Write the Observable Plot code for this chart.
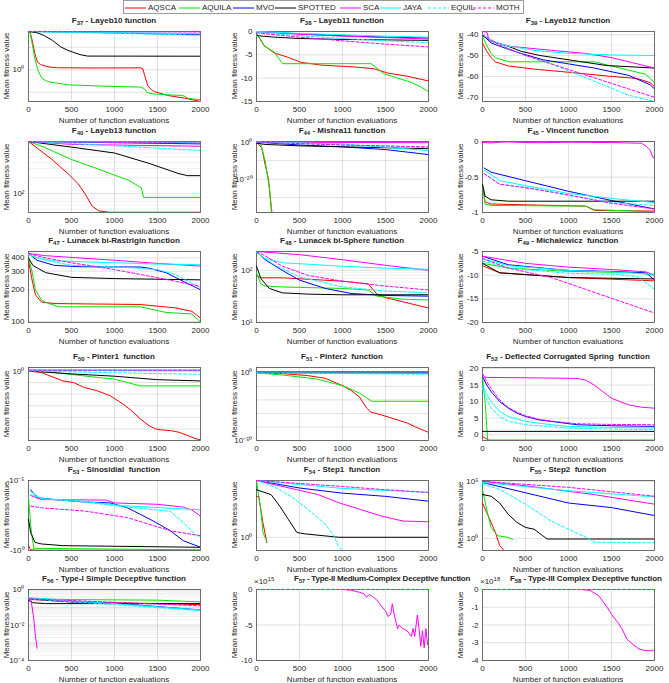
<!DOCTYPE html>
<html>
<head>
<meta charset="utf-8">
<script src="https://cdn.jsdelivr.net/npm/d3@7"></script>
<script src="https://cdn.jsdelivr.net/npm/@observablehq/plot@0.6"></script>
<style>
  body { margin: 0; background: #fff; }
  #fig { position: relative; width: 669px; height: 683px; overflow: hidden; background: #fff;
         font-family: "Liberation Sans", Arial, sans-serif; color: #262626; }
  .title { position: absolute; font-weight: bold; font-size: 8px; line-height: 10px; white-space: pre; }
  .title sub { font-size: 6px; vertical-align: -2px; line-height: 0; }
  .lab { position: absolute; font-size: 8px; line-height: 10px; white-space: nowrap; }
  .expo { position: absolute; font-size: 8px; line-height: 10px; white-space: nowrap; }
  .expo sup { font-size: 6px; vertical-align: 3px; line-height: 0; }
  #legend { position: absolute; left: 123px; top: 0; width: 401px; height: 14px; box-sizing: border-box;
            border: 1px solid #9a9a9a; background: #fff; font-size: 8px; }
  #legend .item { position: absolute; top: 1px; height: 11px; display: flex; align-items: center; white-space: nowrap; }
  #legend svg { margin-right: 2px; }
</style>
</head>
<body>
<div id="fig"><div id="legend"></div></div>
<script>
// ---- series -------------------------------------------------------------
const SERIES = ["AQSCA", "AQUILA", "MVO", "SPOTTED", "SCA", "JAYA", "EQUIL", "MOTH"];
const X_TICKS = [0, 500, 1000, 1500, 2000];

// ---- convergence curves: [function evaluations, mean fitness] -----------
const F37 = {
  AQSCA: [[0,50],[20,46],[47,17],[75,5],[105,2.2],[140,1.7],[183,1.5],[260,1.3],[338,1.23],[800,1.2],[1300,1.22],[1330,1.1],[1350,0.56],[1386,0.2],[1430,0.13],[1464,0.108],[1620,0.072],[1814,0.055],[2000,0.039]],
  AQUILA: [[0,50],[20,42],[47,12],[75,3],[105,1.1],[135,0.6],[163,0.4],[210,0.32],[260,0.28],[454,0.216],[843,0.188],[1309,0.17],[1350,0.14],[1386,0.095],[1450,0.085],[1620,0.077],[1794,0.072],[1852,0.055],[2000,0.046]],
  MVO: [[0,50],[500,47],[1000,43],[1500,39],[2000,36]],
  SPOTTED: [[0,50],[100,44],[183,33],[280,20],[377,10.2],[450,7.5],[513,6.1],[600,4.7],[687,4.05],[2000,4.0]],
  SCA: [[0,50],[2000,49]],
  JAYA: [[0,50],[1000,45],[2000,40]],
  EQUIL: [[0,50],[1000,42],[2000,34]],
  MOTH: [[0,50],[2000,48]]
};
const F38 = {
  AQSCA: [[12,-0.7],[89,-3.0],[206,-4.6],[361,-5.5],[517,-6.6],[750,-7.2],[1138,-7.6],[1371,-8.0],[1526,-8.9],[1759,-9.6],[2000,-10.6]],
  AQUILA: [[12,-0.7],[89,-3.1],[206,-4.4],[264,-5.9],[303,-6.9],[1332,-6.9],[1410,-8.0],[1488,-9.1],[1643,-10.0],[1798,-10.9],[1915,-11.9],[2000,-12.9]],
  MVO: [[0,0],[500,-0.5],[1000,-0.9],[1500,-1.2],[2000,-1.4]],
  SPOTTED: [[12,-0.9],[200,-1.2],[500,-1.5],[1000,-1.7],[1500,-1.8],[2000,-1.9]],
  SCA: [[0,0],[500,-0.6],[1000,-1.0],[1500,-1.3],[2000,-1.6]],
  JAYA: [[0,0],[500,-0.4],[1000,-0.7],[1500,-1.0],[2000,-1.2]],
  EQUIL: [[0,-0.2],[500,-0.9],[1000,-1.5],[1500,-2.0],[2000,-2.4]],
  MOTH: [[0,-0.3],[500,-1.2],[1000,-2.0],[1500,-2.7],[2000,-3.3]]
};
const F39 = {
  AQSCA: [[0,-44],[50,-48],[100,-51],[150,-53],[300,-55],[600,-56.5],[1000,-58],[1500,-60],[1800,-61],[1950,-63],[2000,-65]],
  AQUILA: [[0,-41],[60,-46],[100,-49],[150,-51],[300,-53],[1300,-53],[1500,-55],[1700,-57],[1900,-59],[2000,-63]],
  MVO: [[0,-40],[100,-44],[300,-47],[450,-49],[700,-52],[1000,-54],[1300,-56],[1700,-59.5],[1950,-64],[2000,-66]],
  SPOTTED: [[0,-40.5],[100,-43],[283,-45.3],[450,-48],[670,-50],[1058,-52.4],[1446,-54.8],[2000,-56]],
  SCA: [[0,-38.5],[50,-38.8],[80,-43],[300,-45.5],[800,-47.5],[1200,-49],[1500,-51],[1800,-54],[2000,-56]],
  JAYA: [[0,-40],[100,-43],[300,-45.5],[600,-47.5],[1000,-49],[1500,-49.7],[2000,-50]],
  EQUIL: [[0,-40],[200,-45],[500,-50],[800,-54],[1100,-59],[1400,-64],[1700,-69],[2000,-72]],
  MOTH: [[0,-40],[200,-45],[500,-50],[800,-54],[1100,-58],[1400,-62],[1700,-66],[2000,-70]]
};
const F40 = {
  AQSCA: [[0,1000],[260,470],[460,240],[580,152],[660,97],[740,57],[820,46],[940,43.5],[2000,43.5]],
  AQUILA: [[0,1000],[180,780],[500,450],[800,300],[1000,225],[1164,180],[1312,129],[1337,84],[2000,84]],
  MVO: [[0,1000],[2000,900]],
  SPOTTED: [[0,1000],[500,780],[1000,600],[1400,380],[1750,240],[1850,220],[2000,220]],
  SCA: [[0,1000],[500,880],[2000,810]],
  JAYA: [[0,1000],[2000,950]],
  EQUIL: [[0,1000],[1000,830],[2000,670]],
  MOTH: [[0,1000],[2000,930]]
};
const F44 = {
  AQSCA: [[0,1],[60,1e-3],[100,1e-12],[120,1e-16],[140,1e-20],[175,1e-38]],
  AQUILA: [[0,1],[50,1e-1],[100,1e-10],[150,1e-25],[180,1e-38]],
  MVO: [[0,1],[500,0.03],[1000,3e-3],[1500,1e-4],[2000,2e-7]],
  SPOTTED: [[0,0.3],[100,0.06],[500,1e-2],[1000,3e-3],[1500,1e-3],[2000,3e-4]],
  SCA: [[0,1],[2000,0.5]],
  JAYA: [[0,1],[1000,0.1],[2000,3e-5]],
  EQUIL: [[0,1],[1000,0.03],[2000,1e-3]],
  MOTH: [[0,1],[1000,0.03],[2000,3e-3]]
};
const F45 = {
  AQSCA: [[0,-0.62],[30,-0.85],[100,-0.88],[1200,-0.91],[1300,-0.97],[2000,-0.98]],
  AQUILA: [[0,-0.62],[30,-0.88],[100,-0.9],[1200,-0.91],[1300,-0.96],[2000,-0.99]],
  MVO: [[20,-0.37],[100,-0.43],[500,-0.55],[1000,-0.7],[1500,-0.83],[2000,-0.95]],
  SPOTTED: [[0,-0.6],[30,-0.77],[100,-0.82],[300,-0.84],[2000,-0.84]],
  SCA: [[0,-0.01],[100,-0.015],[200,-0.005],[300,0],[500,-0.01],[700,-0.012],[1000,-0.005],[1500,-0.01],[1850,-0.02],[1900,-0.06],[1950,-0.12],[1980,-0.22],[2000,-0.23]],
  JAYA: [[20,-0.4],[200,-0.55],[500,-0.62],[1000,-0.73],[1500,-0.8],[2000,-0.86]],
  EQUIL: [[20,-0.45],[200,-0.6],[600,-0.66],[1000,-0.76],[1500,-0.86],[2000,-0.9]],
  MOTH: [[20,-0.45],[200,-0.6],[500,-0.65],[1000,-0.75],[1500,-0.87],[2000,-0.95]]
};
const F47 = {
  AQSCA: [[0,380],[40,250],[80,180],[150,153],[300,148],[1300,145],[1700,135],[1900,125],[2000,108]],
  AQUILA: [[0,400],[40,300],[80,200],[150,160],[200,152],[350,138],[1300,138],[1600,122],[1900,118],[2000,99]],
  MVO: [[0,440],[100,380],[300,340],[600,330],[1300,328],[1400,320],[1600,290],[1800,240],[2000,200]],
  SPOTTED: [[0,400],[50,340],[200,290],[500,262],[1000,255],[2000,248]],
  SCA: [[0,440],[200,420],[1000,380],[1500,355],[2000,335]],
  JAYA: [[0,430],[100,400],[300,375],[1000,360],[1500,350],[2000,345]],
  EQUIL: [[0,430],[200,380],[500,340],[1000,330],[1500,310],[1700,280],[2000,210]],
  MOTH: [[0,440],[200,400],[500,360],[1000,310],[1500,260],[2000,215]]
};
const F48 = {
  AQSCA: [[0,80],[50,72],[300,72],[1000,62],[1300,55],[1400,35],[1500,30],[1700,25],[2000,19]],
  AQUILA: [[0,90],[50,55],[100,50],[300,48],[1000,45],[1300,42],[1400,32],[1700,28],[2000,27]],
  MVO: [[0,230],[100,160],[300,100],[500,65],[800,45],[1100,36],[1500,33],[2000,32]],
  SPOTTED: [[0,120],[50,70],[150,45],[300,37],[600,35],[1000,34],[2000,34]],
  SCA: [[0,230],[500,200],[1000,160],[1500,125],[2000,100]],
  JAYA: [[0,220],[100,170],[300,140],[1000,120],[1500,110],[2000,105]],
  EQUIL: [[0,220],[200,130],[500,75],[1000,48],[1500,40],[2000,37]],
  MOTH: [[0,230],[100,190],[300,120],[600,80],[1000,62],[1500,50],[2000,42]]
};
const F49 = {
  AQSCA: [[0,-8],[200,-9.5],[1000,-10.5],[2000,-11.2]],
  AQUILA: [[0,-7.5],[300,-8.5],[1000,-9.2],[1800,-9.5],[2000,-10]],
  MVO: [[0,-6],[300,-7.8],[700,-8.5],[1000,-9],[1500,-9.2],[1900,-9.5],[2000,-11]],
  SPOTTED: [[0,-7.5],[200,-9.5],[1000,-10.5],[2000,-10.8]],
  SCA: [[0,-6],[500,-7.5],[1000,-8.3],[1500,-8.8],[1900,-9.3],[2000,-10]],
  JAYA: [[0,-6.5],[300,-8],[1000,-9],[1500,-9.3],[2000,-9.8]],
  EQUIL: [[0,-7],[300,-8.5],[1000,-9.6],[1500,-9.8],[1800,-10.3],[2000,-13]],
  MOTH: [[0,-6.5],[300,-8.5],[800,-10.5],[1200,-13],[1600,-15.5],[2000,-18]]
};
const F50 = {
  AQSCA: [[0,1],[150,0.04],[400,2.5e-9],[525,1e-10],[650,5e-15],[800,8e-18],[950,4e-22],[1100,2.5e-29],[1200,5e-35],[1300,4e-42],[1400,8e-48],[1475,1e-50],[1550,1.3e-51],[1650,4e-52],[1750,1.3e-53],[1850,2e-56],[1950,2.5e-59],[2000,4e-60]],
  AQUILA: [[0,1],[300,0.05],[650,5e-5],[1000,8e-8],[1300,1.3e-13],[2000,1.3e-13]],
  MVO: [[0,3],[2000,2]],
  SPOTTED: [[0,1],[500,3e-3],[1000,3e-5],[1500,3e-8],[2000,2.5e-9]],
  SCA: [[0,5],[2000,5]],
  JAYA: [[0,3],[2000,3]],
  EQUIL: [[0,1],[1000,0.03],[2000,1.3e-3]],
  MOTH: [[0,5],[2000,4]]
};
const F51 = {
  AQSCA: [[0,1],[300,0.3],[600,0.01],[800,1e-4],[1000,4e-10],[1100,1e-13],[1200,1e-18],[1280,1e-26],[1330,1e-29],[1450,1e-31],[1600,1e-34],[1750,1e-37],[1850,1e-40],[2000,1e-44]],
  AQUILA: [[0,1],[300,0.03],[700,3e-5],[1000,4e-10],[1200,1e-15],[1340,1e-21],[2000,1e-21]],
  MVO: [[0,10],[2000,5]],
  SPOTTED: [[0,3],[500,1],[2000,1]],
  SCA: [[0,10],[2000,10]],
  JAYA: [[0,5],[2000,5]],
  EQUIL: [[0,1],[2000,0.1]],
  MOTH: [[0,10],[2000,8]]
};
const F52 = {
  AQSCA: [[0,-0.5],[40,-1.2],[80,-1.76]],
  AQUILA: [[0,17.5],[30,10],[60,-1.6],[2000,-1.6]],
  MVO: [[0,17.5],[50,15],[100,13],[200,10],[300,8],[400,6.5],[500,5.5],[650,4.5],[800,4],[1100,3],[1500,2.7],[2000,2.5]],
  SPOTTED: [[0,1],[2000,1]],
  SCA: [[0,17.5],[50,17.3],[500,17.2],[1100,17],[1200,16.5],[1300,15],[1400,13],[1500,11],[1600,10],[1700,9],[1850,8.3],[2000,8]],
  JAYA: [[0,15],[50,12],[100,10],[200,7],[300,5.5],[500,4],[800,3],[1000,2.5],[1500,2.2],[2000,2]],
  EQUIL: [[0,14],[50,10.5],[100,8],[200,5.5],[300,4],[500,3],[1000,2],[1500,1.7],[2000,1.5]],
  MOTH: [[0,18.5],[50,16],[100,14],[200,10.5],[300,8.2],[400,6.8],[500,5.7],[650,4.7],[800,4.1],[1100,3.3],[1500,3.1],[2000,3]]
};
const F53 = {
  AQSCA: [[0,-0.45],[25,-0.9],[100,-0.95],[2000,-0.97]],
  AQUILA: [[0,-1.7e-4],[30,-0.03],[60,-0.7],[2000,-0.9]],
  MVO: [[25,-4.6e-5],[100,-1.7e-4],[300,-2.3e-4],[650,-3.4e-4],[950,-4e-4],[1150,-8.9e-4],[1300,-2.6e-3],[1450,-7.8e-3],[1650,-0.039],[1800,-0.2],[2000,-0.59]],
  SPOTTED: [[0,-5.9e-3],[25,-0.051],[75,-0.26],[150,-0.34],[400,-0.45],[2000,-0.59]],
  SCA: [[25,-1.2e-4],[150,-2.3e-4],[900,-2.5e-4],[1000,-4e-4],[1500,-5e-4],[1800,-8e-4],[1900,-1.3e-3],[2000,-3.5e-3]],
  JAYA: [[25,-6.3e-5],[150,-2e-4],[500,-2.5e-4],[800,-4e-4],[1100,-6.3e-4],[2000,-1.26e-3]],
  EQUIL: [[25,-1e-4],[150,-2e-4],[600,-3.2e-4],[1000,-6.3e-4],[1650,-1.6e-3],[1800,-0.01],[1950,-0.087],[2000,-0.1]],
  MOTH: [[25,-6.8e-4],[150,-8.9e-4],[650,-1.5e-3],[1150,-4.5e-3],[1650,-0.039],[2000,-0.087]]
};
const F54 = {
  AQSCA: [[0,1260],[25,1260],[75,12.6],[120,0.4]],
  AQUILA: [[0,2e4],[50,126],[75,2.3],[120,0.5]],
  MVO: [[0,2e4],[500,5400],[1000,2200],[1500,1260],[2000,540]],
  SPOTTED: [[0,4000],[170,1700],[270,230],[370,23],[470,2.3],[570,1.8],[960,1],[2000,1]],
  SCA: [[0,2e4],[470,4000],[716,1700],[963,400],[1210,126],[1457,40],[1704,17],[2000,15]],
  JAYA: [[0,2e4],[1000,5000],[2000,2500]],
  EQUIL: [[0,2e4],[200,7000],[400,1260],[600,126],[800,10],[900,1.3],[950,0.23],[1050,0.05]],
  MOTH: [[0,2e4],[500,1.2e4],[1000,7000],[1500,4000],[2000,2500]]
};
const F55 = {
  AQSCA: [[0,1260],[50,178],[100,25],[150,3.3],[200,0.23],[250,0.085]],
  AQUILA: [[0,2e4],[50,316],[100,9],[175,1.7],[300,1.2],[350,0.8]],
  MVO: [[0,8e4],[500,1e4],[1000,1260],[1500,500],[2000,100]],
  SPOTTED: [[0,7000],[100,5000],[200,1260],[300,126],[400,25],[500,9],[600,6.3],[700,1.7],[750,0.87],[2000,0.87]],
  SCA: [[0,1e5],[550,3.7e4],[1300,6900],[2000,1000]],
  JAYA: [[0,8e4],[1000,1.5e4],[2000,4400]],
  EQUIL: [[0,6e4],[200,2e4],[500,1000],[800,32],[1000,6.3],[1200,1.26],[1300,0.45],[2000,0.4]],
  MOTH: [[0,1e5],[1000,3e4],[2000,5000]]
};
const F56 = {
  AQSCA: [[0,0.28],[500,0.2],[1000,0.18],[1500,0.16],[2000,0.14]],
  AQUILA: [[0,0.3],[500,0.27],[1500,0.25],[2000,0.2]],
  MVO: [[0,0.3],[500,0.2],[1000,0.17],[2000,0.07]],
  SPOTTED: [[0,0.25],[50,0.18],[200,0.16],[2000,0.16]],
  SCA: [[0,0.37],[30,0.25],[60,0.025],[80,0.0025],[100,5e-4]],
  JAYA: [[0,0.35],[1000,0.16],[2000,0.07]],
  EQUIL: [[0,0.3],[1000,0.14],[2000,0.065]],
  MOTH: [[0,0.3],[2000,0.12]]
};
const F57 = {
  AQSCA: [[0,0],[2000,0]],
  AQUILA: [[0,0],[2000,0]],
  MVO: [[0,0],[2000,0]],
  SPOTTED: [[0,0],[2000,0]],
  SCA: [[0,0],[1000,0],[1100,-1e14],[1200,-4e14],[1250,-6e14],[1280,-1.1e15],[1310,-7e14],[1350,-1e15],[1400,-1.5e15],[1450,-2.3e15],[1500,-3e15],[1530,-3.8e15],[1560,-3.5e15],[1580,-2e15],[1600,-3.5e15],[1640,-5.5e15],[1660,-5e15],[1700,-5.5e15],[1750,-5.8e15],[1800,-6.6e15],[1820,-5.5e15],[1840,-6.6e15],[1870,-3.6e15],[1890,-5.5e15],[1910,-8e15],[1930,-5.8e15],[1950,-8.2e15],[1970,-5.5e15],[1990,-7.8e15],[2000,-7.5e15]],
  JAYA: [[0,0],[2000,0]],
  EQUIL: [[0,0],[2000,0]],
  MOTH: [[0,0],[2000,0]]
};
const F58 = {
  AQSCA: [[0,0],[2000,0]],
  AQUILA: [[0,0],[2000,0]],
  MVO: [[0,0],[2000,0]],
  SPOTTED: [[0,0],[2000,0]],
  SCA: [[0,0],[1150,0],[1250,-5e16],[1350,-3.5e17],[1450,-1e18],[1500,-1.4e18],[1580,-1.9e18],[1620,-2.2e18],[1680,-2.8e18],[1750,-3.1e18],[1820,-3.35e18],[1900,-3.45e18],[2000,-3.45e18]],
  JAYA: [[0,0],[2000,0]],
  EQUIL: [[0,0],[2000,0]],
  MOTH: [[0,0],[2000,0]]
};

// ---- minor log grid values (2..9 × 10^k inside a range) ------------------
function minorLog(lo, hi) {
  const out = [];
  for (let k = Math.floor(Math.log10(lo)); k <= Math.ceil(Math.log10(hi)); k++)
    for (let m = 2; m <= 9; m++) { const v = m * 10 ** k; if (v > lo && v < hi) out.push(v); }
  return out;
}
const DECADES_10 = e0 => d3.range(e0, 1, 10).map(e => 10 ** e);

// ---- panels: function number, name, y scale --------------------------------
const PANELS = [
  {fn: "37", name: "Layeb10 function", data: F37, type: "log", domain: [0.039, 50], ticks: [1], grid: [0.1, 1, 10], fmt: "pow"},
  {fn: "38", name: "Layeb11 function", data: F38, type: "linear", domain: [-15, 0], ticks: [0, -5, -10, -15]},
  {fn: "39", name: "Layeb12 function", data: F39, type: "linear", domain: [-72, -38.5], ticks: [-40, -50, -60, -70], minor: [-45, -55, -65]},
  {fn: "40", name: "Layeb13 function", data: F40, type: "log", domain: [43, 1000], ticks: [100], fmt: "pow", minor: minorLog(43, 1000)},
  {fn: "44", name: "Mishra11 function", data: F44, type: "log", domain: [1e-38, 2.3], ticks: [1, 1e-20], grid: [1e-30, 1e-20, 1e-10, 1], fmt: "pow"},
  {fn: "45", name: "Vincent function", data: F45, type: "linear", domain: [-1, 0.005], ticks: [0, -0.5, -1]},
  {fn: "47", name: "Lunacek bi-Rastrigin function", data: F47, type: "log", domain: [98, 460], ticks: [100, 200, 300, 400], minor: [150, 250, 350]},
  {fn: "48", name: "Lunacek bi-Sphere function", data: F48, type: "log", domain: [10, 230], ticks: [10, 100], fmt: "pow", minor: minorLog(10, 230)},
  {fn: "49", name: "Michalewicz  function", data: F49, type: "linear", domain: [-20, -5], ticks: [-5, -10, -15, -20]},
  {fn: "50", name: "Pinter1  function", data: F50, type: "log", domain: [1e-60, 1e3], ticks: [1], grid: DECADES_10(-50), fmt: "pow"},
  {fn: "51", name: "Pinter2  function", data: F51, type: "log", domain: [1e-50, 1e4], ticks: [1, 1e-50], grid: DECADES_10(-40), fmt: "pow"},
  {fn: "52", name: "Deflected Corrugated Spring  function", data: F52, type: "linear", domain: [-1.76, 20.3], ticks: [0, 5, 10, 15, 20]},
  {fn: "53", name: "Sinosidial  function", data: F53, type: "log", domain: [-1, -1e-5], ticks: [-1e-5, -1], fmt: "pow"},
  {fn: "54", name: "Step1  function", data: F54, type: "log", domain: [0.1, 2e4], ticks: [1], fmt: "pow"},
  {fn: "55", name: "Step2  function", data: F55, type: "log", domain: [0.085, 1.2e5], ticks: [1, 1e5], fmt: "pow"},
  {fn: "56", name: "Type-I Simple Deceptive function", data: F56, type: "log", domain: [1e-4, 1], ticks: [1, 1e-2, 1e-4], grid: [1, 0.1, 1e-2, 1e-3], fmt: "pow", minor: minorLog(1e-4, 1)},
  {fn: "57", name: "Type-II Medium-Complex Deceptive function", data: F57, type: "linear", domain: [-1e16, 0], ticks: [0, -5e15, -1e16], exponent: 15},
  {fn: "58", name: "Type-III Complex Deceptive function", data: F58, type: "linear", domain: [-4e18, 0], ticks: [0, -1e18, -2e18, -3e18, -4e18], exponent: 18}
];

// ---- styling ---------------------------------------------------------------
const COLOR = {AQSCA: "#ff0000", AQUILA: "#00e600", MVO: "#0000ff", SPOTTED: "#000000",
               SCA: "#ff00ff", JAYA: "#00ffff", EQUIL: "#00ffff", MOTH: "#ff00ff"};
const DASH = {EQUIL: "3,2", MOTH: "3,2"};
const COL_X = [28, 256, 482], FRAME_W = 172;
const ROW_Y = [31, 141, 251, 367, 480, 589], ROW_H = [70, 71, 71, 73, 70, 71];
// titles that sit beside an exponent label: left offset and tightened spacing
const TITLE_SHIFT = {"57": {left: 38, spacing: "-0.22px"}, "58": {left: 28, spacing: "-0.1px"}};

const SUP = {"-": "\u207b", "0": "\u2070", "1": "\u00b9", "2": "\u00b2", "3": "\u00b3", "4": "\u2074",
             "5": "\u2075", "6": "\u2076", "7": "\u2077", "8": "\u2078", "9": "\u2079"};
const sup = s => String(s).replace(/[-0-9]/g, c => SUP[c]);
const pow10 = v => (v < 0 ? "-" : "") + "10" + sup(Math.round(Math.log10(Math.abs(v))));

const fig = document.getElementById("fig");

// legend
const legend = document.getElementById("legend");
const LEGEND_X = [1, 55, 109, 151, 216, 256, 304, 349];
SERIES.forEach((s, i) => {
  const item = document.createElement("div");
  item.className = "item";
  item.style.left = LEGEND_X[i] + "px";
  item.innerHTML = `<svg width="21" height="6"><line x1="0" x2="21" y1="3" y2="3" stroke="${COLOR[s]}" stroke-width="1"${DASH[s] ? ` stroke-dasharray="${DASH[s]}"` : ""}/></svg><span>${s}</span>`;
  legend.appendChild(item);
});

function addText(cls, html, css) {
  const el = document.createElement("div");
  el.className = cls;
  el.innerHTML = html;
  Object.assign(el.style, css);
  fig.appendChild(el);
  return el;
}

PANELS.forEach((p, i) => {
  const col = i % 3, row = Math.floor(i / 3);
  const fx = COL_X[col], fy = ROW_Y[row], fh = ROW_H[row];
  const mL = 36, mR = 6, mT = 4, mB = 16;

  const fmt = p.exponent ? (d => String(d / 10 ** p.exponent))
            : p.fmt === "pow" ? pow10 : (d => String(d));

  const chart = Plot.plot({
    width: FRAME_W + mL + mR,
    height: fh + mT + mB,
    marginLeft: mL, marginRight: mR, marginTop: mT, marginBottom: mB,
    style: {background: "transparent", fontFamily: "Liberation Sans, Arial, sans-serif",
            fontSize: "8px", color: "#262626", overflow: "visible", maxWidth: "none"},
    x: {domain: [0, 2000], ticks: X_TICKS, tickFormat: d => String(d), tickSize: 0, tickPadding: 5, label: null},
    y: {type: p.type, domain: p.domain, ticks: p.ticks, tickFormat: fmt, tickSize: 0, tickPadding: 4, label: null},
    marks: [
      Plot.ruleY(p.minor || [], {stroke: "#000", strokeOpacity: 0.06}),
      Plot.ruleY(p.grid || p.ticks, {stroke: "#000", strokeOpacity: 0.12}),
      Plot.ruleX(X_TICKS.slice(1, -1), {stroke: "#000", strokeOpacity: 0.12}),
      Plot.frame({stroke: "#4a4a4a", strokeWidth: 0.8}),
      ...SERIES.filter(s => p.data[s]).map(s =>
        Plot.line(p.data[s], {x: d => d[0], y: d => d[1], stroke: COLOR[s], strokeWidth: 1,
                              strokeDasharray: DASH[s], clip: true}))
    ]
  });

  const wrap = document.createElement("div");
  Object.assign(wrap.style, {position: "absolute", left: (fx - mL) + "px", top: (fy - mT) + "px",
                             width: (FRAME_W + mL + mR) + "px"});
  wrap.appendChild(chart);
  fig.appendChild(wrap);

  // title
  const title = `F<sub>${p.fn}</sub> - ${p.name}`;
  const shift = TITLE_SHIFT[p.fn];
  if (shift) {
    addText("title", title, {left: (fx + shift.left) + "px", top: (fy - 15) + "px", letterSpacing: shift.spacing});
  } else {
    addText("title", title, {left: fx + "px", width: FRAME_W + "px", textAlign: "center", top: (fy - 15) + "px"});
  }
  // axis labels
  addText("lab", "Mean fitness value", {left: (fx - 21) + "px", top: (fy + fh / 2) + "px",
          transform: "translate(-50%,-50%) rotate(-90deg)"});
  addText("lab", "Number of function evaluations", {left: (fx + FRAME_W / 2) + "px", top: (fy + fh + 20) + "px",
          transform: "translate(-50%,-50%)"});
  if (p.exponent) {
    addText("expo", `\u00d710<sup>${p.exponent}</sup>`, {left: (fx - 2) + "px", top: (fy - 12) + "px"});
  }
});
</script>
</body>
</html>
